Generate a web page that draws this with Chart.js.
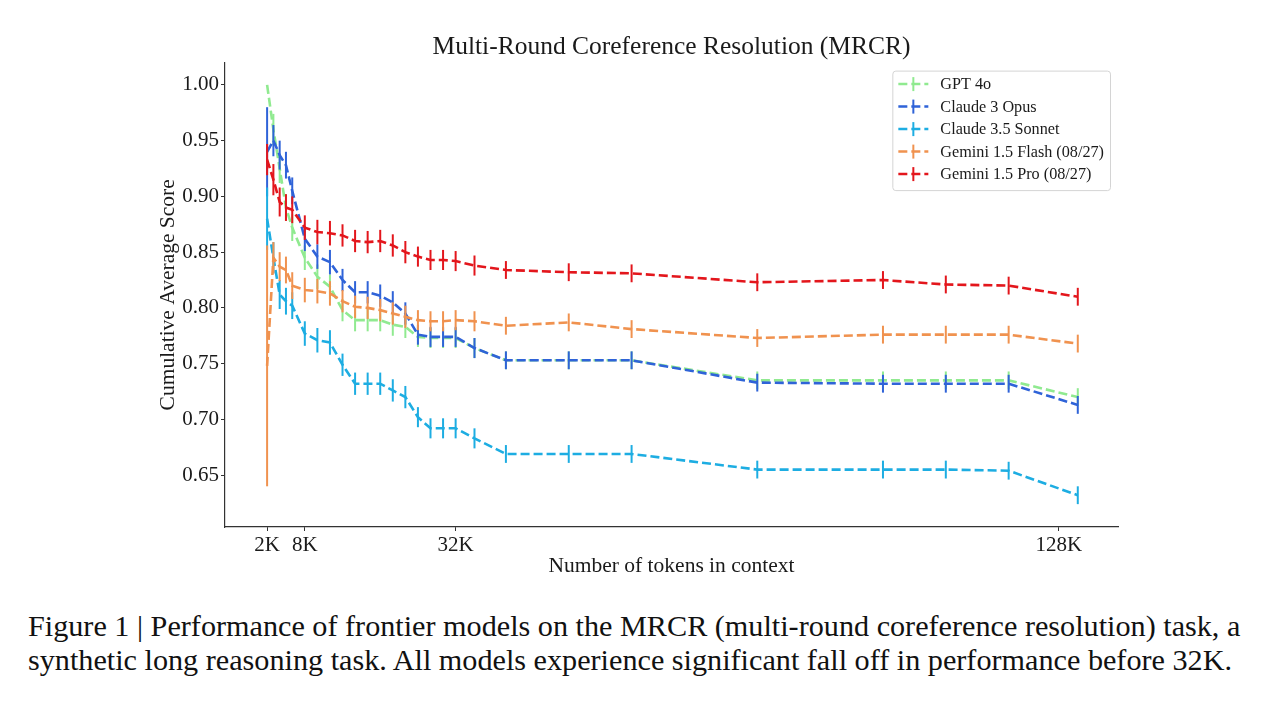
<!DOCTYPE html>
<html>
<head>
<meta charset="utf-8">
<script src="https://cdn.jsdelivr.net/npm/chart.js@4.4.1/dist/chart.umd.min.js"></script>
<style>
  html, body { margin: 0; padding: 0; background: #fff; }
  body { width: 1280px; height: 701px; position: relative; overflow: hidden; }
  #wrap { position: absolute; left: 0; top: 0; width: 1280px; height: 590px; }
  #caption {
    position: absolute; left: 28px; top: 609px;
    font-family: "Liberation Serif", serif; font-size: 30.2px; line-height: 34px;
    color: #111; white-space: nowrap;
  }
</style>
</head>
<body>
<div id="wrap"><canvas id="mrcr"></canvas></div>
<div id="caption">Figure 1 | Performance of frontier models on the MRCR (multi-round coreference resolution) task, a<br>synthetic long reasoning task. All models experience significant fall off in performance before 32K.</div>
<script>
// context length in K tokens
const tokensK = [2, 3, 4, 5, 6, 8, 10, 12, 14, 16, 18, 20, 22, 24, 26, 28, 30, 32, 35, 40, 50, 60, 80, 100, 110, 120, 131];

const gpt4o = [1.0, 0.96, 0.925, 0.89, 0.872, 0.845, 0.828, 0.819, 0.798, 0.789, 0.789, 0.789, 0.785, 0.783, 0.774, 0.773, 0.773, 0.773, 0.764, 0.753, 0.753, 0.753, 0.735, 0.735, 0.735, 0.735, 0.72];
const claudeOpus = [0.94, 0.95, 0.937, 0.928, 0.905, 0.862, 0.846, 0.841, 0.825, 0.814, 0.814, 0.811, 0.805, 0.795, 0.776, 0.774, 0.774, 0.774, 0.764, 0.753, 0.753, 0.753, 0.733, 0.732, 0.732, 0.732, 0.713];
const claudeSonnet = [0.88, 0.845, 0.812, 0.806, 0.802, 0.777, 0.771, 0.769, 0.749, 0.732, 0.732, 0.732, 0.726, 0.72, 0.702, 0.692, 0.692, 0.692, 0.683, 0.669, 0.669, 0.669, 0.655, 0.655, 0.655, 0.654, 0.632];
const geminiFlash = [0.748, 0.845, 0.837, 0.834, 0.82, 0.816, 0.815, 0.813, 0.806, 0.801, 0.8, 0.798, 0.795, 0.792, 0.789, 0.788, 0.788, 0.789, 0.788, 0.784, 0.787, 0.781, 0.773, 0.776, 0.776, 0.776, 0.768];
const geminiPro = [0.933, 0.915, 0.895, 0.89, 0.888, 0.872, 0.868, 0.867, 0.865, 0.86, 0.859, 0.86, 0.856, 0.85, 0.846, 0.843, 0.843, 0.842, 0.838, 0.834, 0.832, 0.831, 0.823, 0.825, 0.821, 0.82, 0.81];

// half-length of the error bars (shared), first point per model
const pointErr = [0, 0.014, 0.013, 0.012, 0.012, 0.011, 0.011, 0.011, 0.01, 0.01, 0.01, 0.01, 0.01, 0.01, 0.009, 0.009, 0.009, 0.009, 0.009, 0.008, 0.008, 0.008, 0.008, 0.008, 0.008, 0.008, 0.008];
const firstErr = [0, 0.04, 0.028, 0.108, 0.014];

const seriesNames = ["GPT 4o", "Claude 3 Opus", "Claude 3.5 Sonnet", "Gemini 1.5 Flash (08/27)", "Gemini 1.5 Pro (08/27)"];
const seriesValues = [gpt4o, claudeOpus, claudeSonnet, geminiFlash, geminiPro];
const seriesColors = ["#90ea90", "#2f63d8", "#1dade2", "#f0924f", "#e3161c"];

const xTicks = [2, 8, 32, 128];
const yTicks = [0.65, 0.7, 0.75, 0.8, 0.85, 0.9, 0.95, 1.0];

const FONT = "'Liberation Serif', 'Times New Roman', serif";

const datasets = seriesNames.map((name, s) => ({
  label: name,
  data: tokensK.map((x, i) => ({ x: x, y: seriesValues[s][i] })),
  errors: tokensK.map((_, i) => (i === 0 ? firstErr[s] : pointErr[i])),
  borderColor: seriesColors[s],
  backgroundColor: seriesColors[s],
  borderWidth: 2.6,
  borderDash: [9, 4],
  pointRadius: 0,
  fill: false,
  tension: 0,
  order: seriesNames.length - s
}));

// vertical error bars, drawn right after each line so stacking matches
const errorBars = {
  id: "errorBars",
  afterDatasetDraw(chart, args) {
    const ds = chart.data.datasets[args.index];
    const yScale = chart.scales.y;
    const ctx = chart.ctx;
    ctx.save();
    ctx.strokeStyle = ds.borderColor;
    ctx.lineWidth = 2;
    ctx.setLineDash([]);
    args.meta.data.forEach((pt, i) => {
      const v = ds.data[i].y, e = ds.errors[i];
      if (!e) return;
      ctx.beginPath();
      ctx.moveTo(pt.x, yScale.getPixelForValue(v + e));
      ctx.lineTo(pt.x, yScale.getPixelForValue(v - e));
      ctx.stroke();
    });
    ctx.restore();
  }
};

// matplotlib-style legend box in the upper right of the plot
const boxLegend = {
  id: "boxLegend",
  afterDraw(chart, args, opts) {
    const ctx = chart.ctx;
    const area = chart.chartArea;
    const sets = chart.data.datasets;
    ctx.save();
    ctx.font = opts.fontSize + "px " + FONT;
    let textW = 0;
    sets.forEach(d => { textW = Math.max(textW, ctx.measureText(d.label).width); });
    const pad = 6, handle = 30, gap = 12, rowH = 22.5;
    const w = pad + handle + gap + textW + pad;
    const h = pad * 2 + rowH * sets.length - 5;
    const right = area.right - 8, top = area.top + 8;
    const left = right - w;
    ctx.fillStyle = "rgba(255,255,255,0.85)";
    ctx.strokeStyle = "#d4d4d4";
    ctx.lineWidth = 1;
    ctx.beginPath();
    ctx.roundRect(left + 0.5, top + 0.5, w, h, 3);
    ctx.fill();
    ctx.stroke();
    sets.forEach((d, i) => {
      const cy = top + pad + 7.5 + i * rowH;
      const x0 = left + pad;
      ctx.strokeStyle = d.borderColor;
      ctx.lineWidth = 2.5;
      ctx.setLineDash([9, 4]);
      ctx.beginPath();
      ctx.moveTo(x0, cy);
      ctx.lineTo(x0 + handle, cy);
      ctx.stroke();
      ctx.setLineDash([]);
      ctx.lineWidth = 2;
      ctx.beginPath();
      ctx.moveTo(x0 + handle / 2, cy - 7);
      ctx.lineTo(x0 + handle / 2, cy + 7);
      ctx.stroke();
      ctx.fillStyle = "#1a1a1a";
      ctx.textBaseline = "middle";
      ctx.textAlign = "left";
      ctx.fillText(d.label, x0 + handle + gap, cy + 1);
    });
    ctx.restore();
  }
};

new Chart(document.getElementById("mrcr").getContext("2d"), {
  type: "line",
  data: { datasets: datasets },
  plugins: [errorBars, boxLegend],
  options: {
    responsive: true,
    maintainAspectRatio: false,
    animation: false,
    layout: { padding: { left: 150, right: 162, top: 0, bottom: 0 } },
    plugins: {
      legend: { display: false },
      tooltip: { enabled: false },
      title: {
        display: true,
        text: "Multi-Round Coreference Resolution (MRCR)",
        fullSize: false,
        color: "#1a1a1a",
        font: { family: FONT, size: 25.5, weight: "normal", lineHeight: 1.2 },
        padding: { top: 32, bottom: 0 }
      },
      boxLegend: { fontSize: 16.2 }
    },
    scales: {
      x: {
        type: "linear",
        min: -4.7,
        max: 137.4,
        afterBuildTicks: s => { s.ticks = xTicks.map(v => ({ value: v })); },
        afterFit: s => { s.height = 63; },
        ticks: {
          callback: v => v + "K",
          color: "#1a1a1a",
          font: { family: FONT, size: 21 },
          padding: 1.5,
          maxRotation: 0
        },
        grid: { drawOnChartArea: false, drawTicks: true, tickLength: 4, tickColor: "#333" },
        border: { display: true, color: "#333", width: 1.2 },
        title: {
          display: true,
          text: "Number of tokens in context",
          color: "#1a1a1a",
          font: { family: FONT, size: 21.5 },
          padding: { top: 0, bottom: 11 }
        }
      },
      y: {
        type: "linear",
        min: 0.6035,
        max: 1.02,
        afterBuildTicks: s => { s.ticks = yTicks.map(v => ({ value: v })); },
        afterFit: s => { s.width = 75; },
        ticks: {
          callback: v => Number(v).toFixed(2),
          color: "#1a1a1a",
          font: { family: FONT, size: 21 },
          padding: 2
        },
        grid: { drawOnChartArea: false, drawTicks: true, tickLength: 4, tickColor: "#333" },
        border: { display: true, color: "#333", width: 1.2 },
        title: {
          display: true,
          text: "Cumulative Average Score",
          color: "#1a1a1a",
          font: { family: FONT, size: 21.5 },
          padding: { top: 5, bottom: 0 }
        }
      }
    }
  }
});
</script>
</body>
</html>
